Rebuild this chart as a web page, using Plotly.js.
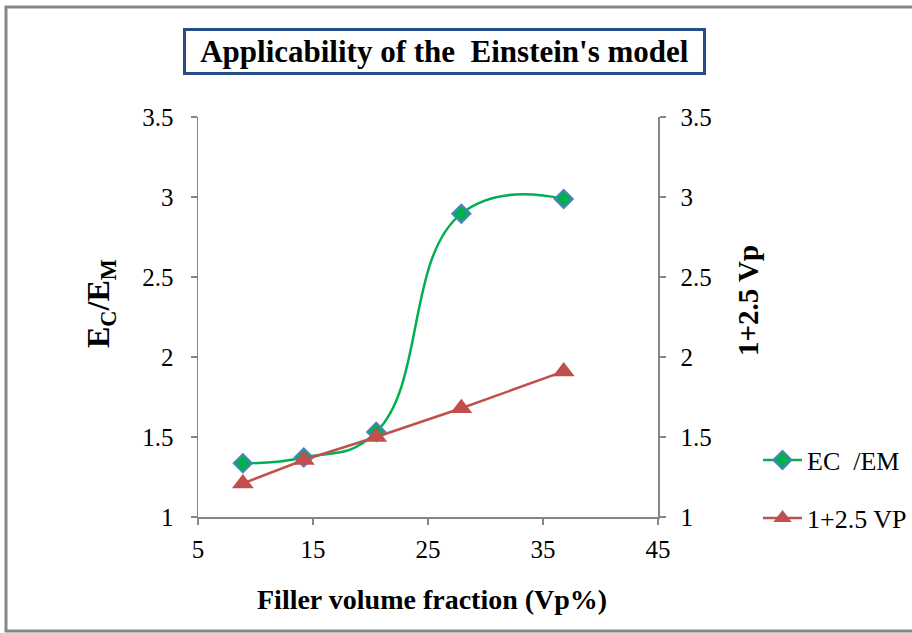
<!DOCTYPE html>
<html>
<head>
<meta charset="utf-8">
<script src="https://cdn.plot.ly/plotly-3.0.1.min.js"></script>
<style>
html,body{margin:0;padding:0;background:#fff;}
#chart{width:912px;height:633px;}
</style>
</head>
<body>
<div id="chart"></div>
<script>
// Data
const vp = [8.9, 14.2, 20.5, 27.9, 36.8];
const ecEm = [1.336, 1.372, 1.532, 2.896, 2.988];
const einstein = [1.21, 1.356, 1.50, 1.68, 1.91];
const seriesNames = ["EC  /EM", "1+2.5 VP"];
const xTicks = [5, 15, 25, 35, 45];
const yTicks = [1, 1.5, 2, 2.5, 3, 3.5];
const yTickText = ["1", "1.5", "2", "2.5", "3", "3.5"];

const fontName = "Liberation Serif";
const axisGray = "#868686";

const traces = [
  {
    x: vp, y: ecEm, name: seriesNames[0], type: "scatter", mode: "lines+markers",
    line: {color: "#00B050", width: 2.5, shape: "spline", smoothing: 1.3},
    marker: {symbol: "diamond", size: 14, color: "#00B050", line: {color: "#4F81BD", width: 2}},
    legend: "legend", yaxis: "y"
  },
  {
    x: vp, y: einstein, name: seriesNames[1], type: "scatter", mode: "lines+markers",
    line: {color: "#C0504D", width: 2.5},
    marker: {symbol: "triangle-up", size: 19, color: "#C0504D"},
    legend: "legend2", yaxis: "y2"
  }
];

const tickFont = {family: fontName, size: 25, color: "#000"};
const axisCommon = {
  showgrid: false, zeroline: false, showline: true, linecolor: axisGray, linewidth: 1.5,
  ticks: "outside", ticklen: 6, tickcolor: axisGray, tickwidth: 1.5, tickfont: tickFont,
  automargin: false
};
const legendFont = {family: fontName, size: 26, color: "#000"};
const layout = {
  width: 912, height: 633,
  margin: {l: 198, r: 254, t: 117, b: 116},
  paper_bgcolor: "#fff", plot_bgcolor: "#fff",
  font: {family: fontName, color: "#000"},
  showlegend: true,
  xaxis: Object.assign({range: [5, 45], tickvals: xTicks, ticktext: xTicks.map(String), ticklabelstandoff: 3}, axisCommon),
  yaxis: Object.assign({range: [1, 3.5], tickvals: yTicks, ticktext: yTickText, ticklabelstandoff: 12}, axisCommon),
  yaxis2: Object.assign({range: [1, 3.5], tickvals: yTicks, ticktext: yTickText, overlaying: "y", side: "right", anchor: "x", ticklabelstandoff: 10}, axisCommon),
  legend: {
    xref: "container", yref: "container",
    x: 758 / 912, y: 1 - 460 / 633, xanchor: "left", yanchor: "middle",
    font: legendFont, bgcolor: "rgba(0,0,0,0)", itemwidth: 39
  },
  legend2: {
    xref: "container", yref: "container",
    x: 758 / 912, y: 1 - 518 / 633, xanchor: "left", yanchor: "middle",
    font: legendFont, bgcolor: "rgba(0,0,0,0)", itemwidth: 39
  },
  annotations: [
    {
      text: "<b>Applicability of the  Einstein's model</b>",
      xref: "paper", yref: "paper", x: (444 - 198) / 460, y: (517 - 52) / 400,
      xanchor: "center", yanchor: "middle", showarrow: false,
      font: {family: fontName, size: 31, color: "#000"},
      bordercolor: "#254E86", borderwidth: 3, borderpad: 2, bgcolor: "#fff",
      width: 513, height: 37
    },
    {
      text: "<b>E<sub>C</sub>/E<sub>M</sub></b>",
      xref: "paper", yref: "paper", x: (100 - 198) / 460, y: (517 - 304) / 400,
      xanchor: "center", yanchor: "middle", showarrow: false, textangle: -90,
      font: {family: fontName, size: 32, color: "#000"}
    },
    {
      text: "<b>1+2.5 Vp</b>",
      xref: "paper", yref: "paper", x: (748 - 198) / 460, y: (517 - 301) / 400,
      xanchor: "center", yanchor: "middle", showarrow: false, textangle: -90,
      font: {family: fontName, size: 29, color: "#000"}
    },
    {
      text: "<b>Filler volume fraction (Vp%)</b>",
      xref: "paper", yref: "paper", x: (432 - 198) / 460, y: (517 - 599) / 400,
      xanchor: "center", yanchor: "middle", showarrow: false,
      font: {family: fontName, size: 28, color: "#000"}
    }
  ],
  shapes: [
    {
      type: "rect", xref: "paper", yref: "paper",
      x0: (6 - 198) / 460, x1: (930 - 198) / 460,
      y0: (517 - 631) / 400, y1: (517 - 7) / 400,
      line: {color: "#868686", width: 3}, fillcolor: "rgba(0,0,0,0)", layer: "below"
    }
  ]
};

Plotly.newPlot("chart", traces, layout, {staticPlot: true, displayModeBar: false});
</script>
</body>
</html>
